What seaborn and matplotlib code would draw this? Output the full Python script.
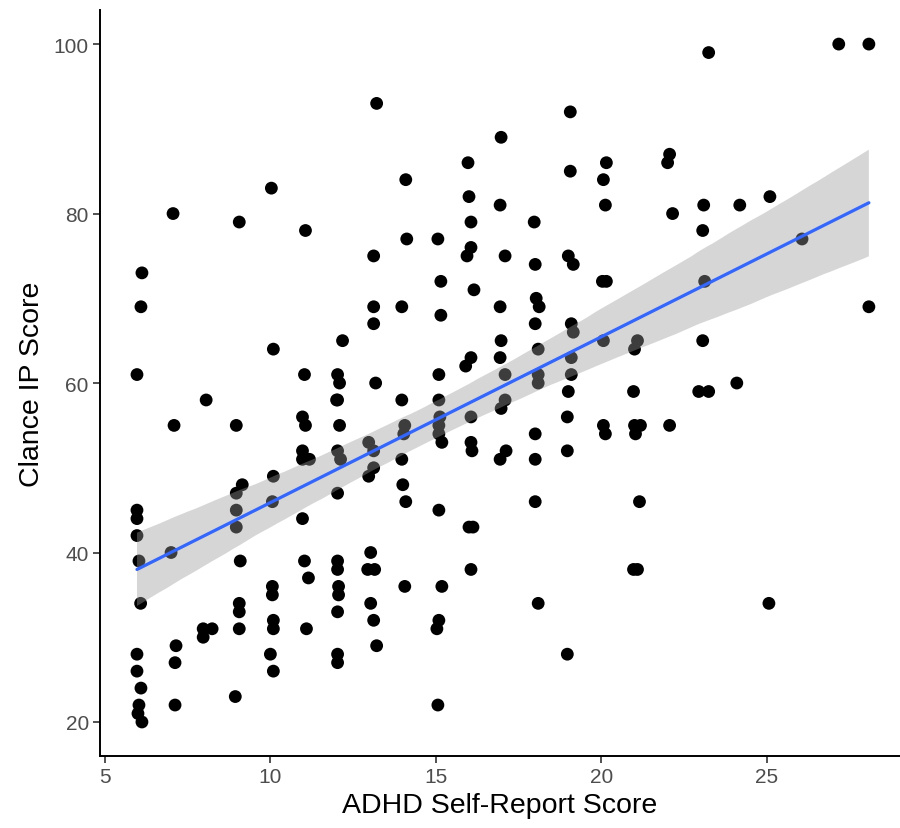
import numpy as np
import pandas as pd
import matplotlib
matplotlib.use("Agg")
import matplotlib.pyplot as plt
import seaborn as sns

# ADHD self-report score (slightly jittered as in the original) and Clance IP score
adhd = [
    6.12, 6.09, 5.97, 5.97, 5.97, 5.97, 6.03, 6.08, 5.97, 5.97, 6.09, 6.03, 6.00, 6.12,
    7.06, 7.09, 7.00, 7.15, 7.12, 7.12,
    8.06, 7.97, 8.24, 7.97,
    9.06, 8.97, 9.15, 8.97, 8.97, 8.97, 9.09, 9.06, 9.06, 9.06, 8.94,
    10.03, 10.09, 10.09, 10.06, 10.06, 10.06, 10.09, 10.09, 10.00, 10.09,
    11.06, 11.03, 10.97, 11.06, 10.97, 10.97, 11.18, 10.97, 11.03, 11.15, 11.09,
    12.18, 12.03, 12.09, 12.03, 12.00, 12.09, 12.03, 12.12, 12.03, 12.03, 12.03, 12.06,
    12.06, 12.03, 12.03, 12.03,
    13.21, 13.12, 13.12, 13.12, 13.18, 12.97, 13.12, 13.12, 12.97, 13.03, 12.94, 13.15,
    13.03, 13.12, 13.21,
    14.09, 14.12, 13.97, 13.97, 14.06, 14.03, 13.97, 14.00, 14.09, 14.06,
    15.06, 15.15, 15.15, 15.09, 15.09, 15.12, 15.09, 15.09, 15.18, 15.09, 15.18, 15.09,
    15.03, 15.06,
    15.97, 16.00, 16.06, 16.06, 15.94, 16.15, 16.06, 15.90, 16.06, 16.06, 16.09, 16.00,
    16.12, 16.06,
    16.97, 16.94, 17.09, 16.94, 16.97, 16.94, 17.09, 17.09, 16.97, 17.12, 16.94,
    17.97, 18.00, 18.03, 18.12, 18.00, 18.09, 18.09, 18.09, 18.00, 18.00, 18.00, 18.09,
    19.06, 19.06, 19.00, 19.15, 19.09, 19.15, 19.09, 19.09, 19.00, 18.97, 18.97, 18.97,
    20.15, 20.06, 20.12, 20.03, 20.15, 20.06, 20.06, 20.12,
    21.09, 21.00, 20.97, 21.00, 21.18, 21.03, 21.15, 20.97, 21.09,
    22.06, 22.00, 22.15, 22.06,
    23.24, 23.09, 23.06, 23.12, 23.06, 22.94, 23.24,
    24.18, 24.09,
    25.09, 25.06,
    26.06,
    27.17,
    28.08, 28.08,
]
clance = [
    73, 69, 61, 45, 44, 42, 39, 34, 28, 26, 24, 22, 21, 20,
    80, 55, 40, 29, 27, 22,
    58, 31, 31, 30,
    79, 55, 48, 47, 45, 43, 39, 34, 33, 31, 23,
    83, 64, 49, 46, 36, 35, 32, 31, 28, 26,
    78, 61, 56, 55, 52, 51, 51, 44, 39, 37, 31,
    65, 61, 60, 58, 58, 55, 52, 51, 47, 39, 38, 36,
    35, 33, 28, 27,
    93, 75, 69, 67, 60, 53, 52, 50, 49, 40, 38, 38,
    34, 32, 29,
    84, 77, 69, 58, 55, 54, 51, 48, 46, 36,
    77, 72, 68, 61, 58, 56, 55, 54, 53, 45, 36, 32,
    31, 22,
    86, 82, 79, 76, 75, 71, 63, 62, 56, 53, 52, 43,
    43, 38,
    89, 81, 75, 69, 65, 63, 61, 58, 57, 52, 51,
    79, 74, 70, 69, 67, 64, 61, 60, 54, 51, 46, 34,
    92, 85, 75, 74, 67, 66, 63, 61, 59, 56, 52, 28,
    86, 84, 81, 72, 72, 65, 55, 54,
    65, 64, 59, 55, 55, 54, 46, 38, 38,
    87, 86, 80, 55,
    99, 81, 78, 72, 65, 59, 59,
    81, 60,
    82, 34,
    77,
    100,
    100, 69,
]

x_ticks = [5, 10, 15, 20, 25]
y_ticks = [20, 40, 60, 80, 100]

df = pd.DataFrame({"adhd": adhd, "clance": clance})

sns.set_style("white")
plt.rcParams["font.family"] = ["Liberation Sans", "DejaVu Sans"]

fig = plt.figure(figsize=(9, 8.29), dpi=100)
ax = fig.add_axes([0.111, 0.087, 0.889, 0.8995])

sns.scatterplot(data=df, x="adhd", y="clance", ax=ax, color="black",
                s=85, edgecolor="none", linewidth=0, zorder=2)
sns.regplot(data=df, x="adhd", y="clance", ax=ax, scatter=False, ci=95,
            n_boot=2000, seed=3, truncate=True,
            line_kws={"color": "#3366FF", "lw": 2.3, "zorder": 4})

# ggplot-like grey confidence band drawn over the points
for coll in ax.collections[1:]:
    coll.set_facecolor("#999999")
    coll.set_alpha(0.4)
    coll.set_edgecolor("none")
    coll.set_zorder(3)

ax.set_xlim(4.85, 29.02)
ax.set_ylim(16, 104)
ax.set_xticks(x_ticks)
ax.set_yticks(y_ticks)

for side in ["top", "right"]:
    ax.spines[side].set_visible(False)
for side in ["left", "bottom"]:
    ax.spines[side].set_color("black")
    ax.spines[side].set_linewidth(1.4)

ax.tick_params(axis="both", which="both", direction="out", length=5, width=1.2,
               bottom=True, left=True,
               color="#333333", labelcolor="#4D4D4D", labelsize=15, pad=3)
ax.set_xlabel("ADHD Self-Report Score", fontsize=20.5, color="black", labelpad=4)
ax.set_ylabel("Clance IP Score", fontsize=20.5, color="black", labelpad=6)

fig.savefig("out.png", dpi=100)
